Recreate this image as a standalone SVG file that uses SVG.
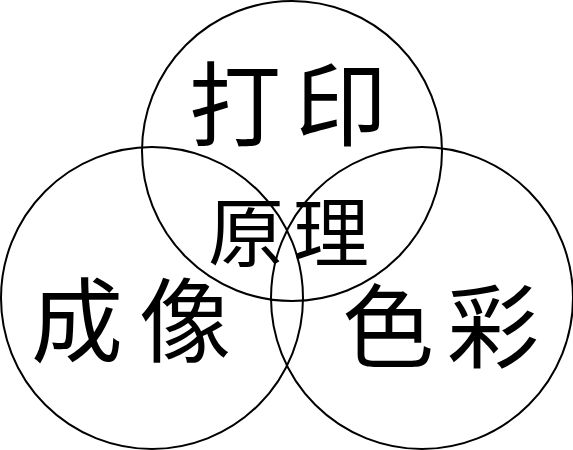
<svg xmlns="http://www.w3.org/2000/svg" width="573" height="450" viewBox="0 0 573 450">
<style>
.c{fill:none;stroke:#000;stroke-width:2}
.t{font-family:"Noto Sans CJK SC","Noto Sans CJK JP",sans-serif;fill:#000;text-anchor:middle;font-weight:400}
</style>
<rect width="573" height="450" fill="#fff"/>
<g id="top"><circle class="c" cx="292" cy="151" r="150"/></g>
<g id="left"><circle class="c" cx="152" cy="298" r="151"/></g>
<g id="right"><circle class="c" cx="422" cy="298" r="151"/></g>
<g id="label-top"><text class="t" x="235" y="139" font-size="92">打</text><text class="t" x="341" y="139" font-size="92">印</text></g>
<g id="label-center"><text class="t" x="246" y="261" font-size="76">原</text><text class="t" x="331" y="261" font-size="76">理</text></g>
<g id="label-left"><text class="t" x="77" y="355" font-size="92">成</text><text class="t" x="185" y="355" font-size="92">像</text></g>
<g id="label-right"><text class="t" x="388" y="361" font-size="92">色</text><text class="t" x="493" y="361" font-size="92">彩</text></g>
</svg>
